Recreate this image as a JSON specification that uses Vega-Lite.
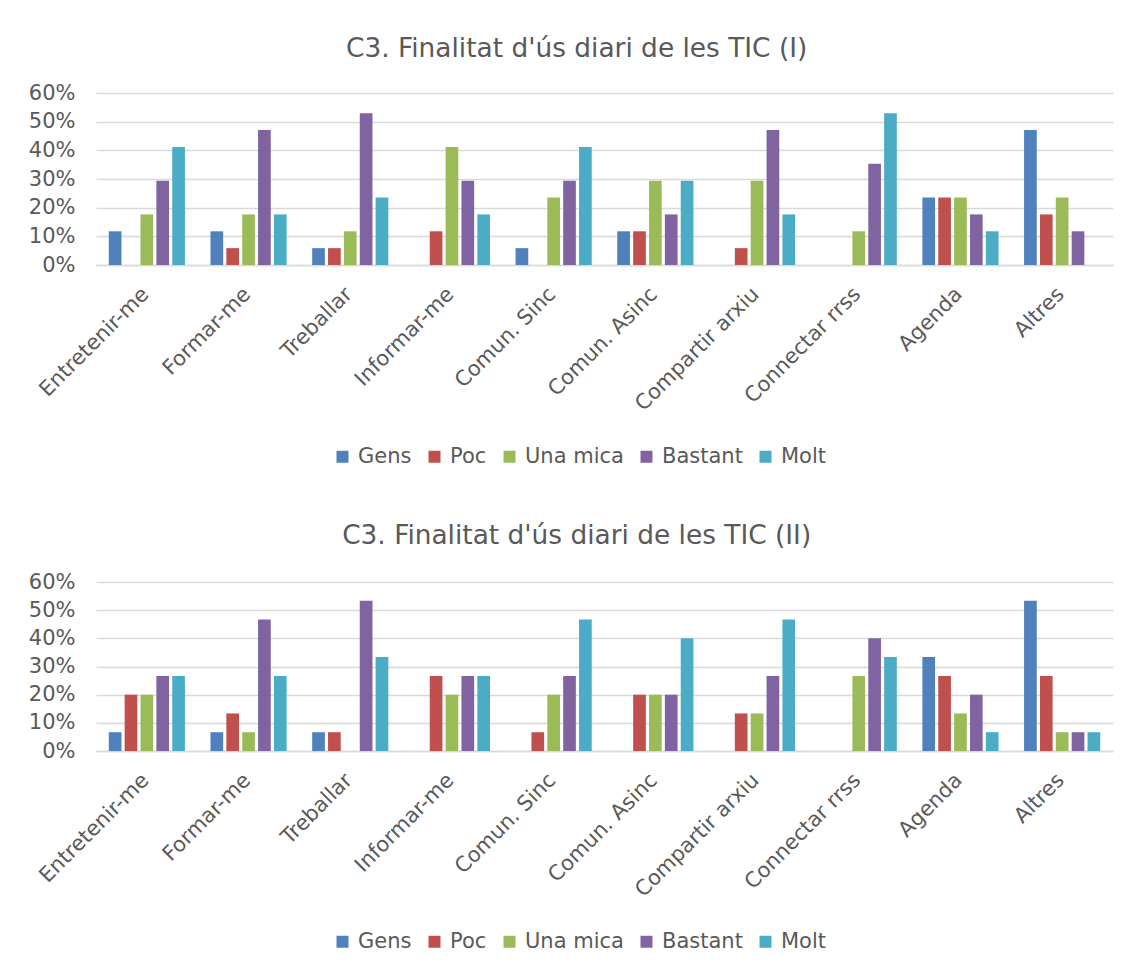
{
  "$schema": "https://vega.github.io/schema/vega-lite/v6.json",
  "padding": {"left": 28, "top": 35, "right": 18, "bottom": 10},
  "background": "white",
  "spacing": 55,
  "config": {
    "font": "DejaVu Sans",
    "view": {"stroke": null},
    "axis": {"labelFont": "DejaVu Sans", "labelFontSize": 21, "labelColor": "#595959", "ticks": false, "title": null},
    "legend": {"labelFont": "DejaVu Sans", "labelFontSize": 21, "labelColor": "#595959"},
    "title": {"font": "DejaVu Sans", "fontSize": 26.4, "fontWeight": "normal", "color": "#595959", "anchor": "middle", "frame": "bounds"}
  },
  "datasets": {
    "p1": [
      {"cat": "Entretenir-me", "level": "Gens", "value": 0.1176},
      {"cat": "Entretenir-me", "level": "Poc", "value": 0},
      {"cat": "Entretenir-me", "level": "Una mica", "value": 0.1765},
      {"cat": "Entretenir-me", "level": "Bastant", "value": 0.2941},
      {"cat": "Entretenir-me", "level": "Molt", "value": 0.4118},
      {"cat": "Formar-me", "level": "Gens", "value": 0.1176},
      {"cat": "Formar-me", "level": "Poc", "value": 0.0588},
      {"cat": "Formar-me", "level": "Una mica", "value": 0.1765},
      {"cat": "Formar-me", "level": "Bastant", "value": 0.4706},
      {"cat": "Formar-me", "level": "Molt", "value": 0.1765},
      {"cat": "Treballar", "level": "Gens", "value": 0.0588},
      {"cat": "Treballar", "level": "Poc", "value": 0.0588},
      {"cat": "Treballar", "level": "Una mica", "value": 0.1176},
      {"cat": "Treballar", "level": "Bastant", "value": 0.5294},
      {"cat": "Treballar", "level": "Molt", "value": 0.2353},
      {"cat": "Informar-me", "level": "Gens", "value": 0},
      {"cat": "Informar-me", "level": "Poc", "value": 0.1176},
      {"cat": "Informar-me", "level": "Una mica", "value": 0.4118},
      {"cat": "Informar-me", "level": "Bastant", "value": 0.2941},
      {"cat": "Informar-me", "level": "Molt", "value": 0.1765},
      {"cat": "Comun. Sinc", "level": "Gens", "value": 0.0588},
      {"cat": "Comun. Sinc", "level": "Poc", "value": 0},
      {"cat": "Comun. Sinc", "level": "Una mica", "value": 0.2353},
      {"cat": "Comun. Sinc", "level": "Bastant", "value": 0.2941},
      {"cat": "Comun. Sinc", "level": "Molt", "value": 0.4118},
      {"cat": "Comun. Asinc", "level": "Gens", "value": 0.1176},
      {"cat": "Comun. Asinc", "level": "Poc", "value": 0.1176},
      {"cat": "Comun. Asinc", "level": "Una mica", "value": 0.2941},
      {"cat": "Comun. Asinc", "level": "Bastant", "value": 0.1765},
      {"cat": "Comun. Asinc", "level": "Molt", "value": 0.2941},
      {"cat": "Compartir arxiu", "level": "Gens", "value": 0},
      {"cat": "Compartir arxiu", "level": "Poc", "value": 0.0588},
      {"cat": "Compartir arxiu", "level": "Una mica", "value": 0.2941},
      {"cat": "Compartir arxiu", "level": "Bastant", "value": 0.4706},
      {"cat": "Compartir arxiu", "level": "Molt", "value": 0.1765},
      {"cat": "Connectar rrss", "level": "Gens", "value": 0},
      {"cat": "Connectar rrss", "level": "Poc", "value": 0},
      {"cat": "Connectar rrss", "level": "Una mica", "value": 0.1176},
      {"cat": "Connectar rrss", "level": "Bastant", "value": 0.3529},
      {"cat": "Connectar rrss", "level": "Molt", "value": 0.5294},
      {"cat": "Agenda", "level": "Gens", "value": 0.2353},
      {"cat": "Agenda", "level": "Poc", "value": 0.2353},
      {"cat": "Agenda", "level": "Una mica", "value": 0.2353},
      {"cat": "Agenda", "level": "Bastant", "value": 0.1765},
      {"cat": "Agenda", "level": "Molt", "value": 0.1176},
      {"cat": "Altres", "level": "Gens", "value": 0.4706},
      {"cat": "Altres", "level": "Poc", "value": 0.1765},
      {"cat": "Altres", "level": "Una mica", "value": 0.2353},
      {"cat": "Altres", "level": "Bastant", "value": 0.1176},
      {"cat": "Altres", "level": "Molt", "value": 0}
    ],
    "p2": [
      {"cat": "Entretenir-me", "level": "Gens", "value": 0.0667},
      {"cat": "Entretenir-me", "level": "Poc", "value": 0.2},
      {"cat": "Entretenir-me", "level": "Una mica", "value": 0.2},
      {"cat": "Entretenir-me", "level": "Bastant", "value": 0.2667},
      {"cat": "Entretenir-me", "level": "Molt", "value": 0.2667},
      {"cat": "Formar-me", "level": "Gens", "value": 0.0667},
      {"cat": "Formar-me", "level": "Poc", "value": 0.1333},
      {"cat": "Formar-me", "level": "Una mica", "value": 0.0667},
      {"cat": "Formar-me", "level": "Bastant", "value": 0.4667},
      {"cat": "Formar-me", "level": "Molt", "value": 0.2667},
      {"cat": "Treballar", "level": "Gens", "value": 0.0667},
      {"cat": "Treballar", "level": "Poc", "value": 0.0667},
      {"cat": "Treballar", "level": "Una mica", "value": 0},
      {"cat": "Treballar", "level": "Bastant", "value": 0.5333},
      {"cat": "Treballar", "level": "Molt", "value": 0.3333},
      {"cat": "Informar-me", "level": "Gens", "value": 0},
      {"cat": "Informar-me", "level": "Poc", "value": 0.2667},
      {"cat": "Informar-me", "level": "Una mica", "value": 0.2},
      {"cat": "Informar-me", "level": "Bastant", "value": 0.2667},
      {"cat": "Informar-me", "level": "Molt", "value": 0.2667},
      {"cat": "Comun. Sinc", "level": "Gens", "value": 0},
      {"cat": "Comun. Sinc", "level": "Poc", "value": 0.0667},
      {"cat": "Comun. Sinc", "level": "Una mica", "value": 0.2},
      {"cat": "Comun. Sinc", "level": "Bastant", "value": 0.2667},
      {"cat": "Comun. Sinc", "level": "Molt", "value": 0.4667},
      {"cat": "Comun. Asinc", "level": "Gens", "value": 0},
      {"cat": "Comun. Asinc", "level": "Poc", "value": 0.2},
      {"cat": "Comun. Asinc", "level": "Una mica", "value": 0.2},
      {"cat": "Comun. Asinc", "level": "Bastant", "value": 0.2},
      {"cat": "Comun. Asinc", "level": "Molt", "value": 0.4},
      {"cat": "Compartir arxiu", "level": "Gens", "value": 0},
      {"cat": "Compartir arxiu", "level": "Poc", "value": 0.1333},
      {"cat": "Compartir arxiu", "level": "Una mica", "value": 0.1333},
      {"cat": "Compartir arxiu", "level": "Bastant", "value": 0.2667},
      {"cat": "Compartir arxiu", "level": "Molt", "value": 0.4667},
      {"cat": "Connectar rrss", "level": "Gens", "value": 0},
      {"cat": "Connectar rrss", "level": "Poc", "value": 0},
      {"cat": "Connectar rrss", "level": "Una mica", "value": 0.2667},
      {"cat": "Connectar rrss", "level": "Bastant", "value": 0.4},
      {"cat": "Connectar rrss", "level": "Molt", "value": 0.3333},
      {"cat": "Agenda", "level": "Gens", "value": 0.3333},
      {"cat": "Agenda", "level": "Poc", "value": 0.2667},
      {"cat": "Agenda", "level": "Una mica", "value": 0.1333},
      {"cat": "Agenda", "level": "Bastant", "value": 0.2},
      {"cat": "Agenda", "level": "Molt", "value": 0.0667},
      {"cat": "Altres", "level": "Gens", "value": 0.5333},
      {"cat": "Altres", "level": "Poc", "value": 0.2667},
      {"cat": "Altres", "level": "Una mica", "value": 0.0667},
      {"cat": "Altres", "level": "Bastant", "value": 0.0667},
      {"cat": "Altres", "level": "Molt", "value": 0.0667}
    ]
  },
  "resolve": {"scale": {"color": "independent"}},
  "vconcat": [
    {
      "title": {"text": "C3. Finalitat d'ús diari de les TIC (I)", "offset": 20, "dx": 6},
      "data": {"name": "p1"},
      "width": 1017,
      "height": 172,
      "mark": {"type": "bar"},
      "encoding": {
        "x": {
          "field": "cat", "type": "nominal",
          "sort": ["Entretenir-me", "Formar-me", "Treballar", "Informar-me", "Comun. Sinc", "Comun. Asinc", "Compartir arxiu", "Connectar rrss", "Agenda", "Altres"],
          "scale": {"paddingInner": 0.22, "paddingOuter": 0.11},
          "axis": {"labelAngle": -45, "labelPadding": 18, "labelOffset": -9, "domainColor": "#d9d9d9", "domainWidth": 1.5, "grid": false}
        },
        "xOffset": {"field": "level", "type": "nominal", "scale": {"domain": ["Gens", "Poc", "Una mica", "Bastant", "Molt"], "paddingInner": 0.2, "paddingOuter": 0.1}},
        "y": {
          "field": "value", "type": "quantitative",
          "scale": {"domain": [0, 0.6]},
          "axis": {"format": ".0%", "values": [0, 0.1, 0.2, 0.3, 0.4, 0.5, 0.6], "domain": false, "labelPadding": 21, "gridColor": "#d9d9d9", "gridWidth": 1.5}
        },
        "color": {
          "field": "level", "type": "nominal",
          "scale": {"domain": ["Gens", "Poc", "Una mica", "Bastant", "Molt"], "range": ["#4F81BD", "#C0504D", "#9BBB59", "#8064A2", "#4BACC6"]},
          "legend": {"orient": "none", "legendX": 236, "legendY": 353, "direction": "horizontal", "title": null, "symbolType": "square", "symbolSize": 144, "symbolStrokeWidth": 0, "columnPadding": 12, "labelOffset": 5}
        }
      }
    },
    {
      "title": {"text": "C3. Finalitat d'ús diari de les TIC (II)", "offset": 22, "dx": 6},
      "data": {"name": "p2"},
      "width": 1017,
      "height": 169,
      "mark": {"type": "bar"},
      "encoding": {
        "x": {
          "field": "cat", "type": "nominal",
          "sort": ["Entretenir-me", "Formar-me", "Treballar", "Informar-me", "Comun. Sinc", "Comun. Asinc", "Compartir arxiu", "Connectar rrss", "Agenda", "Altres"],
          "scale": {"paddingInner": 0.22, "paddingOuter": 0.11},
          "axis": {"labelAngle": -45, "labelPadding": 18, "labelOffset": -9, "domainColor": "#d9d9d9", "domainWidth": 1.5, "grid": false}
        },
        "xOffset": {"field": "level", "type": "nominal", "scale": {"domain": ["Gens", "Poc", "Una mica", "Bastant", "Molt"], "paddingInner": 0.2, "paddingOuter": 0.1}},
        "y": {
          "field": "value", "type": "quantitative",
          "scale": {"domain": [0, 0.6]},
          "axis": {"format": ".0%", "values": [0, 0.1, 0.2, 0.3, 0.4, 0.5, 0.6], "domain": false, "labelPadding": 21, "gridColor": "#d9d9d9", "gridWidth": 1.5}
        },
        "color": {
          "field": "level", "type": "nominal",
          "scale": {"domain": ["Gens", "Poc", "Una mica", "Bastant", "Molt"], "range": ["#4F81BD", "#C0504D", "#9BBB59", "#8064A2", "#4BACC6"]},
          "legend": {"orient": "none", "legendX": 236, "legendY": 349, "direction": "horizontal", "title": null, "symbolType": "square", "symbolSize": 144, "symbolStrokeWidth": 0, "columnPadding": 12, "labelOffset": 5}
        }
      }
    }
  ]
}
